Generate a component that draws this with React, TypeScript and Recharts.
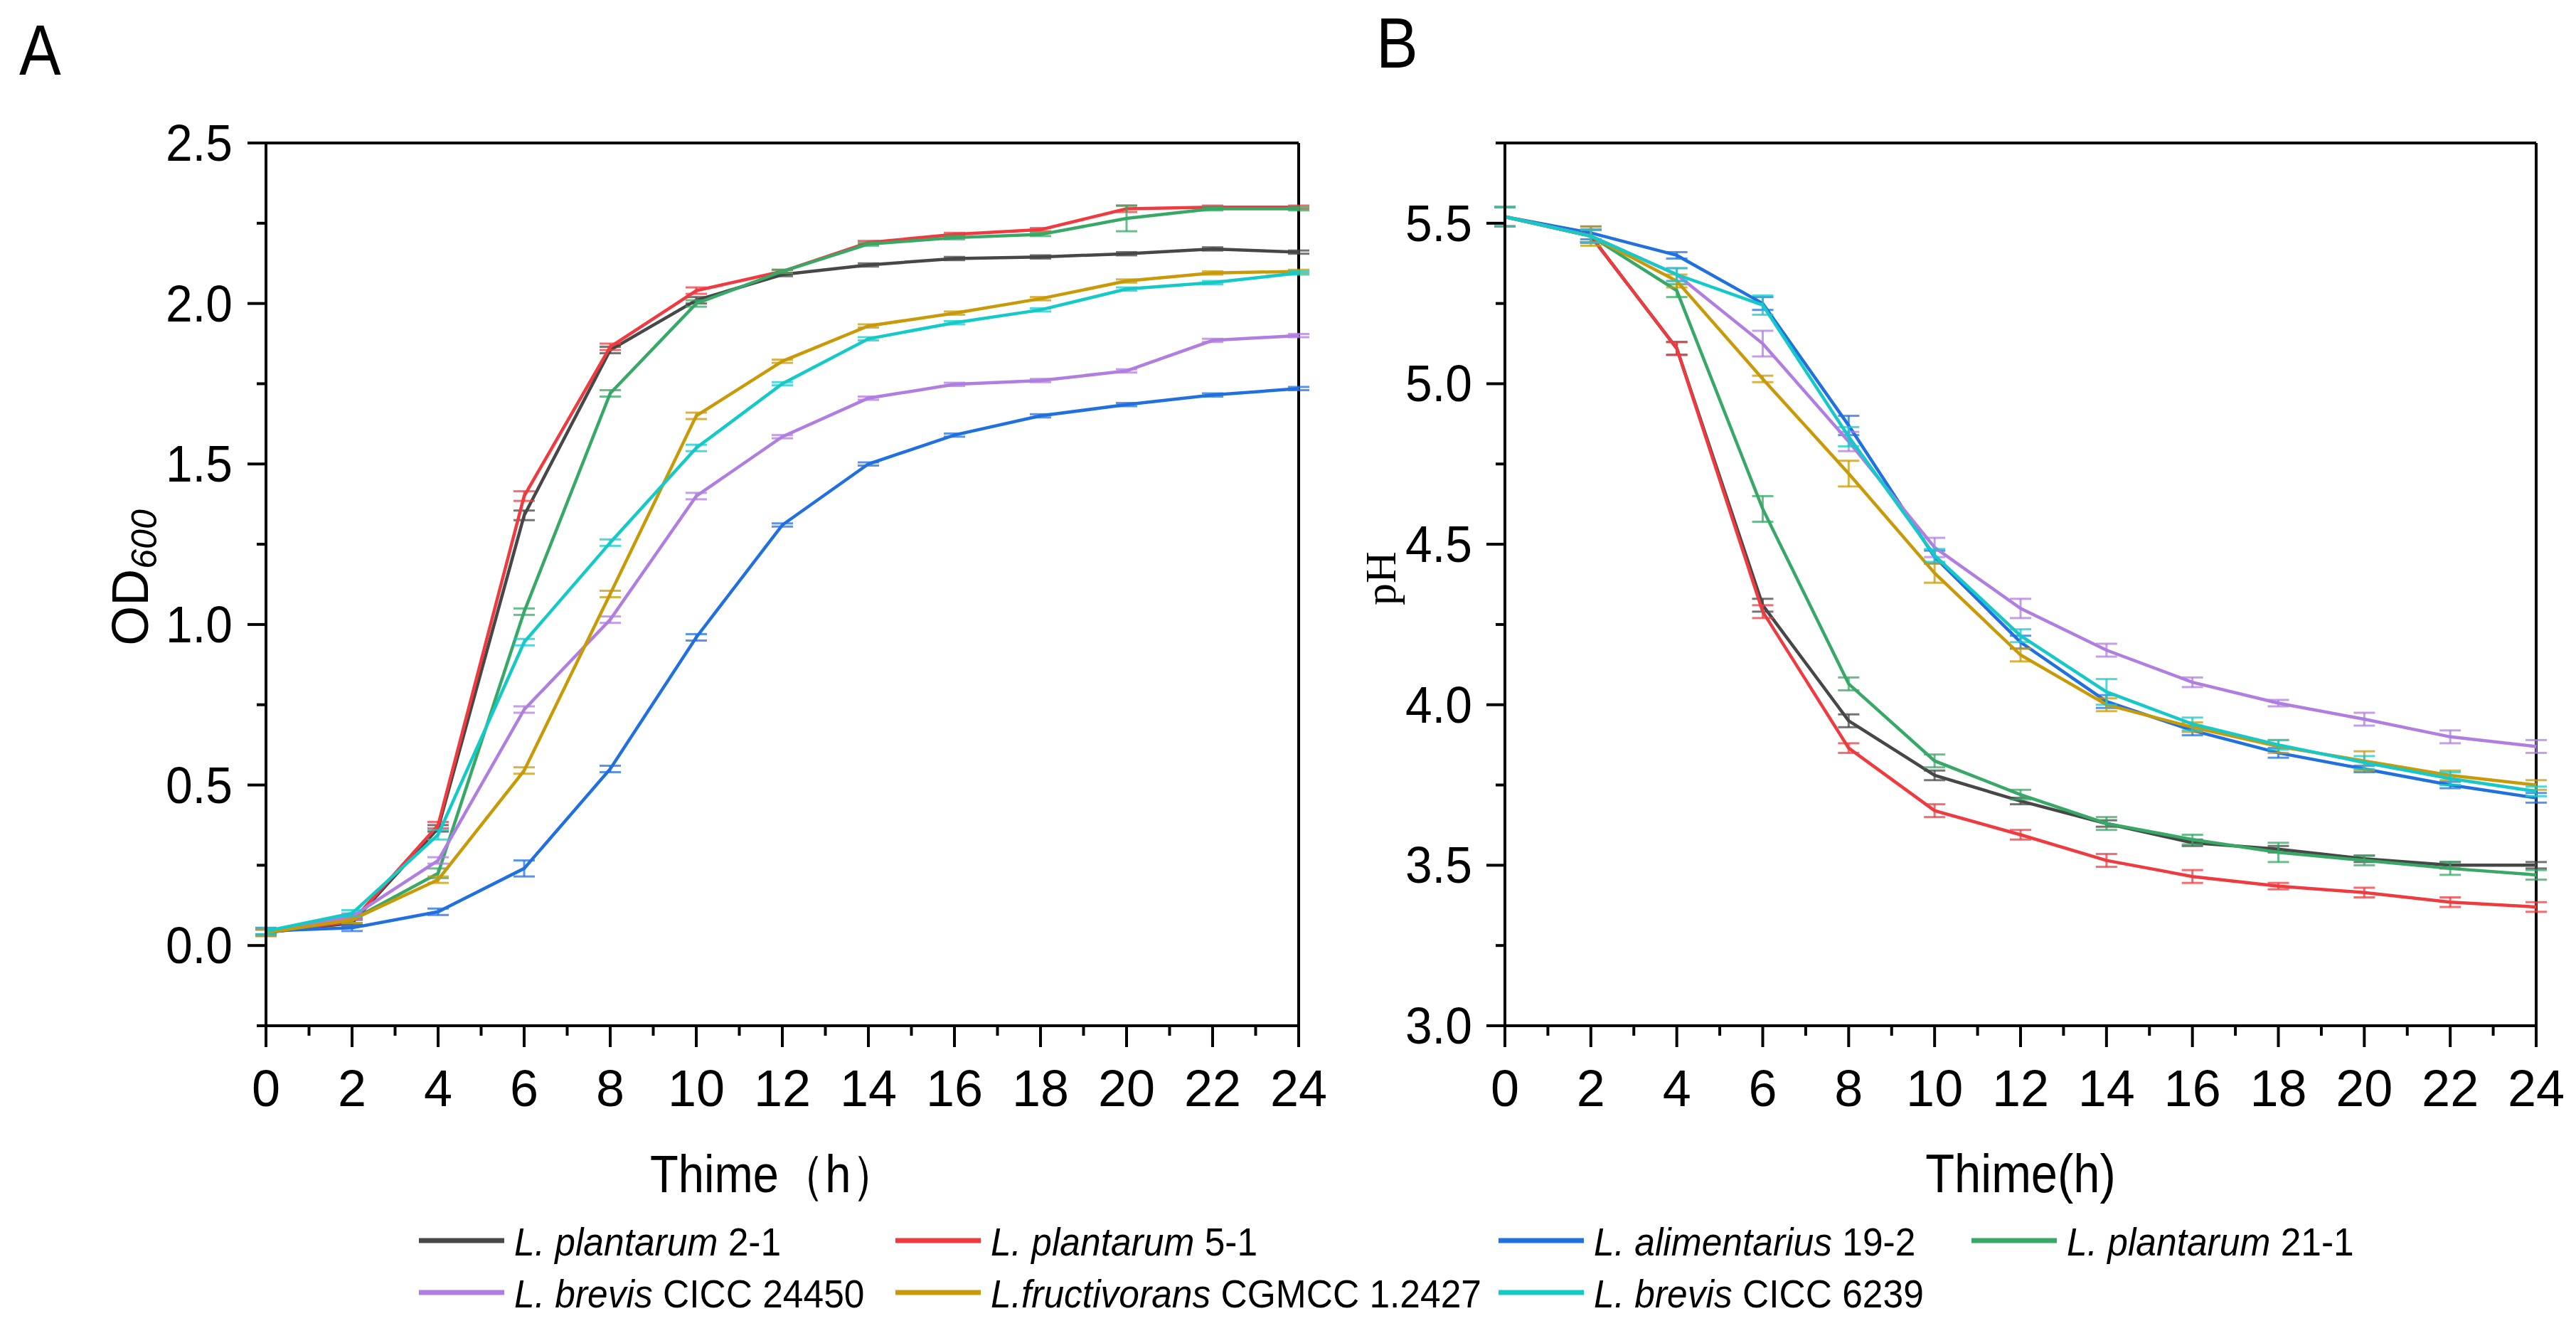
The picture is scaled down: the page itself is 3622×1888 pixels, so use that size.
import React from "react";
import { LineChart, Line, XAxis, YAxis, ErrorBar, ReferenceLine } from "recharts";

// sampling times (h)
const hours = [0, 2, 4, 6, 8, 10, 12, 14, 16, 18, 20, 22, 24];
const hourTicks = [0, 1, 2, 3, 4, 5, 6, 7, 8, 9, 10, 11, 12, 13, 14, 15, 16, 17, 18, 19, 20, 21, 22, 23, 24];
const odTicks = [-0.25, 0, 0.25, 0.5, 0.75, 1, 1.25, 1.5, 1.75, 2, 2.25, 2.5];
const phTicks = [3, 3.25, 3.5, 3.75, 4, 4.25, 4.5, 4.75, 5, 5.25, 5.5, 5.75];

const strainKeys = ["p21", "p51", "a192", "p211", "b24450", "f12427", "b6239"];
const strainItalic = ["L. plantarum", "L. plantarum", "L. alimentarius", "L. plantarum", "L. brevis", "L.fructivorans", "L. brevis"];
const strainPlain = [" 2-1", " 5-1", " 19-2", " 21-1", " CICC 24450", " CGMCC 1.2427", " CICC 6239"];
const strainColors = ["#474747", "#ef3b3f", "#2170e0", "#37a866", "#b07ee0", "#c99a08", "#16c9c9"];

// A: OD600
const odP21 = [0.04, 0.07, 0.365, 1.34, 1.855, 2.01, 2.09, 2.12, 2.14, 2.145, 2.155, 2.17, 2.16];
const odP51 = [0.04, 0.075, 0.375, 1.4, 1.865, 2.04, 2.1, 2.19, 2.215, 2.23, 2.295, 2.3, 2.3];
const odA192 = [0.045, 0.055, 0.105, 0.24, 0.55, 0.96, 1.31, 1.5, 1.59, 1.65, 1.685, 1.715, 1.735];
const odP211 = [0.04, 0.08, 0.225, 1.04, 1.72, 2.0, 2.1, 2.185, 2.205, 2.215, 2.265, 2.295, 2.295];
const odB24450 = [0.04, 0.09, 0.265, 0.735, 1.015, 1.4, 1.585, 1.705, 1.748, 1.76, 1.79, 1.885, 1.9];
const odF12427 = [0.04, 0.08, 0.205, 0.545, 1.095, 1.65, 1.82, 1.93, 1.97, 2.015, 2.07, 2.095, 2.1];
const odB6239 = [0.045, 0.1, 0.345, 0.945, 1.255, 1.55, 1.75, 1.89, 1.94, 1.98, 2.045, 2.065, 2.095];

const odP21Err = [0.01, 0.01, 0.01, 0.015, 0.01, 0.01, 0.005, 0.005, 0.005, 0.005, 0.005, 0.005, 0.005];
const odP51Err = [0.01, 0.01, 0.01, 0.015, 0.01, 0.01, 0.005, 0.005, 0.005, 0.005, 0.01, 0.005, 0.005];
const odA192Err = [0.01, 0.01, 0.01, 0.025, 0.01, 0.01, 0.005, 0.005, 0.005, 0.005, 0.005, 0.005, 0.005];
const odP211Err = [0.01, 0.01, 0.015, 0.01, 0.01, 0.01, 0.005, 0.005, 0.005, 0.005, 0.04, 0.005, 0.005];
const odB24450Err = [0.01, 0.01, 0.01, 0.01, 0.01, 0.01, 0.005, 0.005, 0.005, 0.005, 0.005, 0.005, 0.005];
const odF12427Err = [0.01, 0.01, 0.01, 0.01, 0.01, 0.01, 0.005, 0.005, 0.005, 0.005, 0.005, 0.005, 0.005];
const odB6239Err = [0.01, 0.01, 0.015, 0.01, 0.01, 0.01, 0.005, 0.005, 0.005, 0.005, 0.005, 0.005, 0.005];

// B: pH
const phP21 = [5.52, 5.46, 5.11, 4.31, 3.95, 3.78, 3.7, 3.63, 3.57, 3.55, 3.52, 3.5, 3.5];
const phP51 = [5.52, 5.46, 5.11, 4.29, 3.865, 3.67, 3.595, 3.515, 3.465, 3.435, 3.415, 3.385, 3.37];
const phA192 = [5.52, 5.47, 5.4, 5.25, 4.87, 4.46, 4.195, 4.01, 3.92, 3.85, 3.8, 3.75, 3.71];
const phP211 = [5.52, 5.46, 5.29, 4.61, 4.065, 3.825, 3.72, 3.63, 3.58, 3.54, 3.515, 3.49, 3.47];
const phB24450 = [5.52, 5.46, 5.34, 5.125, 4.82, 4.49, 4.3, 4.17, 4.07, 4.005, 3.955, 3.9, 3.87];
const phF12427 = [5.52, 5.46, 5.32, 5.015, 4.72, 4.41, 4.155, 4.0, 3.93, 3.87, 3.825, 3.78, 3.75];
const phB6239 = [5.52, 5.46, 5.34, 5.245, 4.835, 4.465, 4.215, 4.04, 3.94, 3.875, 3.82, 3.77, 3.73];

const phP21Err = [0.03, 0.02, 0.02, 0.02, 0.02, 0.015, 0.01, 0.01, 0.01, 0.01, 0.01, 0.01, 0.01];
const phP51Err = [0.03, 0.02, 0.02, 0.02, 0.015, 0.02, 0.015, 0.02, 0.02, 0.01, 0.015, 0.015, 0.015];
const phA192Err = [0.03, 0.02, 0.01, 0.02, 0.03, 0.02, 0.02, 0.02, 0.015, 0.015, 0.01, 0.01, 0.015];
const phP211Err = [0.03, 0.02, 0.02, 0.04, 0.02, 0.02, 0.015, 0.02, 0.015, 0.03, 0.015, 0.02, 0.015];
const phB24450Err = [0.03, 0.02, 0.02, 0.04, 0.03, 0.03, 0.03, 0.02, 0.015, 0.01, 0.02, 0.02, 0.02];
const phF12427Err = [0.03, 0.03, 0.02, 0.01, 0.04, 0.03, 0.02, 0.02, 0.015, 0.02, 0.03, 0.015, 0.015];
const phB6239Err = [0.03, 0.02, 0.02, 0.03, 0.03, 0.02, 0.02, 0.04, 0.02, 0.015, 0.02, 0.02, 0.015];

const odSeries = [odP21, odP51, odA192, odP211, odB24450, odF12427, odB6239];
const odErrors = [odP21Err, odP51Err, odA192Err, odP211Err, odB24450Err, odF12427Err, odB6239Err];
const phSeries = [phP21, phP51, phA192, phP211, phB24450, phF12427, phB6239];
const phErrors = [phP21Err, phP51Err, phA192Err, phP211Err, phB24450Err, phF12427Err, phB6239Err];

function buildTable(values: number[][], errors: number[][]) {
  return hours.map((h, i) => {
    const row: Record<string, number> = { t: h };
    strainKeys.forEach((k, j) => {
      row[k] = values[j][i];
      row[k + "E"] = errors[j][i];
    });
    return row;
  });
}

const odTable = buildTable(odSeries, odErrors);
const phTable = buildTable(phSeries, phErrors);

const FONT = "'Liberation Sans', Arial, sans-serif";
const CHART_H = 1700;
const PLOT_TOP = 201;
const PLOT_H = 1241;
const X_AXIS_H = 250;

function XTick(props: any) {
  const { x, y, payload } = props;
  const v = payload.value as number;
  const major = v % 2 === 0;
  return (
    <g>
      <line x1={x} x2={x} y1={y} y2={y + (major ? 30 : 14)} stroke="#000" strokeWidth={4} />
      {major && (
        <text x={x} y={y + 113} textAnchor="middle" fontSize={72} fontFamily={FONT} fill="#000">
          {v}
        </text>
      )}
    </g>
  );
}

function makeYTick(gap: number) {
  return function YTick(props: any) {
    const { x, y, payload } = props;
    const v = payload.value as number;
    const major = Math.abs(v * 2 - Math.round(v * 2)) < 1e-6;
    return (
      <g>
        <line x1={x - (major ? 26 : 13)} x2={x} y1={y} y2={y} stroke="#000" strokeWidth={4} />
        {major && (
          <text
            transform={`translate(${x - gap},${y + 25}) scale(0.94,1)`}
            textAnchor="end"
            fontSize={72}
            fontFamily={FONT}
            fill="#000"
          >
            {v.toFixed(1)}
          </text>
        )}
      </g>
    );
  };
}

function Panel({
  data,
  left,
  width,
  yAxisWidth,
  rightMargin,
  domain,
  ticks,
  gap,
  cap,
}: {
  data: Array<Record<string, number>>;
  left: number;
  width: number;
  yAxisWidth: number;
  rightMargin: number;
  domain: [number, number];
  ticks: number[];
  gap: number;
  cap: number;
}) {
  return (
    <div style={{ position: "absolute", left, top: 0, width, height: CHART_H }}>
      <LineChart
        width={width}
        height={CHART_H}
        data={data}
        margin={{ top: PLOT_TOP, right: rightMargin, left: 0, bottom: CHART_H - PLOT_TOP - PLOT_H - X_AXIS_H }}
      >
        <XAxis
          dataKey="t"
          type="number"
          domain={[0, 24]}
          ticks={hourTicks}
          interval={0}
          tick={XTick}
          tickLine={false}
          tickSize={0}
          tickMargin={0}
          height={X_AXIS_H}
          axisLine={{ stroke: "#000", strokeWidth: 4 }}
        />
        <YAxis
          type="number"
          domain={domain}
          ticks={ticks}
          interval={0}
          tick={makeYTick(gap)}
          tickLine={false}
          tickSize={0}
          tickMargin={0}
          width={yAxisWidth}
          axisLine={{ stroke: "#000", strokeWidth: 4 }}
        />
        <ReferenceLine y={domain[1]} stroke="#000" strokeWidth={4} />
        <ReferenceLine x={24} stroke="#000" strokeWidth={4} />
        {strainKeys.map((k, j) => (
          <Line
            key={k}
            dataKey={k}
            type="linear"
            stroke={strainColors[j]}
            strokeWidth={4.5}
            dot={false}
            activeDot={false}
            isAnimationActive={false}
          >
            <ErrorBar
              dataKey={k + "E"}
              width={cap}
              strokeWidth={3}
              stroke={strainColors[j]}
              strokeOpacity={0.75}
              isAnimationActive={false}
            />
          </Line>
        ))}
      </LineChart>
    </div>
  );
}

const legendCols = [589, 1259, 2107, 2772];
const legendRows = [1744, 1817];
const legendSlots = [
  [0, 0],
  [1, 0],
  [2, 0],
  [3, 0],
  [0, 1],
  [1, 1],
  [2, 1],
];

export default function App() {
  return (
    <div style={{ position: "absolute", left: 0, top: 0, width: 3622, height: 1888, background: "#fff", overflow: "hidden" }}>
      <Panel data={odTable} left={0} width={1900} yAxisWidth={374} rightMargin={74} domain={[-0.25, 2.5]} ticks={odTicks} gap={47} cap={15} />
      <Panel data={phTable} left={1900} width={1722} yAxisWidth={216} rightMargin={56} domain={[3, 5.75]} ticks={phTicks} gap={46} cap={15} />
      <svg width={3622} height={1888} style={{ position: "absolute", left: 0, top: 0, pointerEvents: "none" }}>
        <text transform="translate(27,105) scale(0.88,1)" fontSize={100} fontFamily={FONT} fill="#000">A</text>
        <text transform="translate(1935,95) scale(0.88,1)" fontSize={100} fontFamily={FONT} fill="#000">B</text>
        <text transform="translate(1088,1676) scale(0.88,1)" textAnchor="middle" fontSize={74} fontFamily={FONT} fill="#000">
          Thime（h）
        </text>
        <text transform="translate(2841,1676) scale(0.88,1)" textAnchor="middle" fontSize={76} fontFamily={FONT} fill="#000">
          Thime(h)
        </text>
        <text transform="translate(208, 812) rotate(-90)" textAnchor="middle" fontSize={72} fontFamily={FONT} fill="#000">
          OD
          <tspan fontSize={50} fontStyle="italic" dy={12}>600</tspan>
        </text>
        <text transform="translate(1962, 813) rotate(-90)" textAnchor="middle" fontSize={62} fontFamily="'Liberation Serif', 'Times New Roman', serif" fill="#000">
          pH
        </text>
        {strainKeys.map((k, j) => {
          const [c, r] = legendSlots[j];
          const x = legendCols[c];
          const y = legendRows[r];
          return (
            <g key={k}>
              <line x1={x} x2={x + 120} y1={y} y2={y} stroke={strainColors[j]} strokeWidth={7} />
              <text transform={`translate(${x + 134},${y + 21}) scale(0.92,1)`} fontSize={56} fontFamily={FONT} fill="#000">
                <tspan fontStyle="italic">{strainItalic[j]}</tspan>
                <tspan>{strainPlain[j]}</tspan>
              </text>
            </g>
          );
        })}
      </svg>
    </div>
  );
}
